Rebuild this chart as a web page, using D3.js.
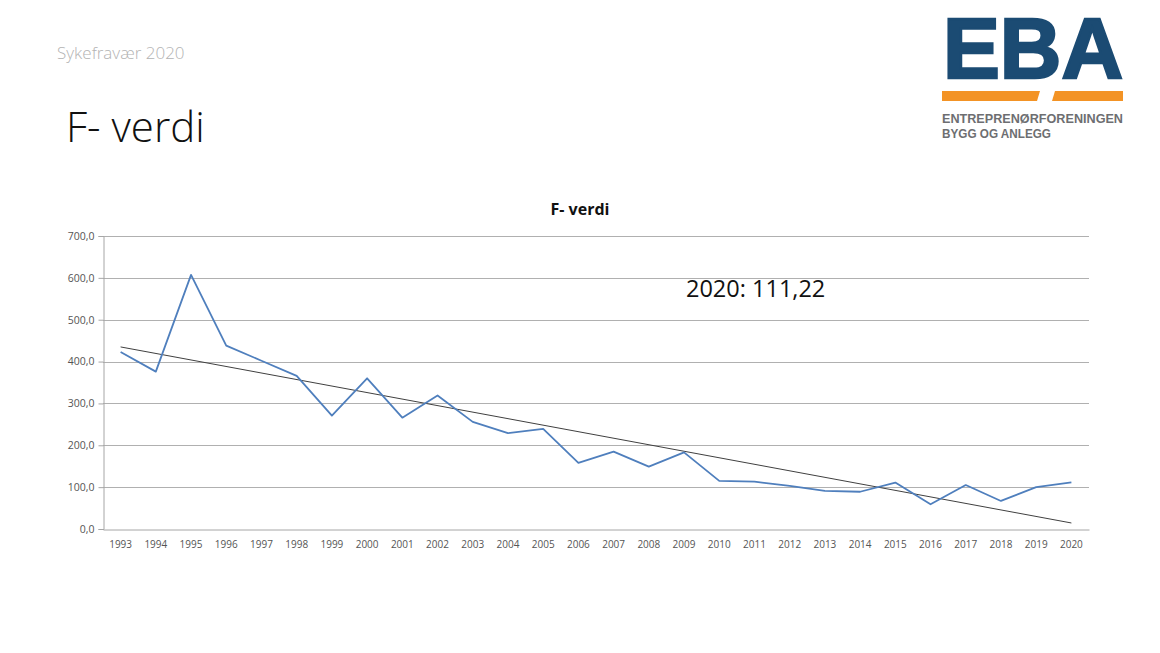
<!DOCTYPE html>
<html><head><meta charset="utf-8">
<script src="https://cdn.jsdelivr.net/npm/d3@7"></script>
<style>body{margin:0;background:#fff}svg{display:block}</style>
</head><body>
<svg id="c" width="1160" height="653"></svg>
<script>
const years = ["1993","1994","1995","1996","1997","1998","1999","2000","2001","2002","2003","2004","2005","2006","2007","2008","2009","2010","2011","2012","2013","2014","2015","2016","2017","2018","2019","2020"];
const fValues = [423,376,607,438,402,366,271,360,266,319,256,229,239,158,185,149,183,115,113,103,91,89,111,59,105,67,100,111.22];
const yTicks = [0,100,200,300,400,500,600,700];
const chartTitle = "F- verdi";
const annotation = "2020: 111,22";

(function(){
const svg = d3.select("#c");
const W=1160,H=653;
svg.append("rect").attr("width",W).attr("height",H).attr("fill","#fff");

// slide header
svg.append("text").attr("x",57).attr("y",59).attr("font-family","Open Sans, Noto Sans, sans-serif")
  .attr("font-size",17).attr("font-weight",300).attr("fill","#b3b3b3").text("Sykefravær 2020");
svg.append("text").attr("x",66).attr("y",142).attr("font-family","Open Sans, Noto Sans, sans-serif")
  .attr("font-size",42).attr("font-weight",300).attr("fill","#111").text("F- verdi");

// logo
const logo = svg.append("g");
logo.append("text").attr("x",943).attr("y",78).attr("font-family","Liberation Sans, Arial, sans-serif")
  .attr("font-weight",700).attr("font-size",85).attr("fill","#1b4b73")
  .attr("stroke","#1b4b73").attr("stroke-width",2.5).attr("stroke-linejoin","miter")
  .attr("textLength",180).attr("lengthAdjust","spacingAndGlyphs").text("EBA");
logo.append("path").attr("d","M942,91 L1040,91 L1037,101 L942,101 Z").attr("fill","#f39325");
logo.append("path").attr("d","M1055,91 L1123,91 L1123,101 L1052,101 Z").attr("fill","#f39325");
logo.append("text").attr("x",942).attr("y",123).attr("font-family","Liberation Sans, Arial, sans-serif")
  .attr("font-weight",700).attr("font-size",12.5).attr("fill","#6d6e71")
  .attr("textLength",181).attr("lengthAdjust","spacingAndGlyphs").text("ENTREPRENØRFORENINGEN");
logo.append("text").attr("x",942).attr("y",138).attr("font-family","Liberation Sans, Arial, sans-serif")
  .attr("font-weight",700).attr("font-size",12.5).attr("fill","#6d6e71")
  .attr("textLength",109).attr("lengthAdjust","spacingAndGlyphs").text("BYGG OG ANLEGG");

// chart
const pL=103,pR=1089,pT=236,pB=529;
const x = d3.scaleBand().domain(years).range([pL,pR]);
const y = d3.scaleLinear().domain([0,700]).range([pB,pT]);

svg.append("text").attr("x",580).attr("y",215).attr("text-anchor","middle")
  .attr("font-family","Open Sans, Noto Sans, sans-serif").attr("font-weight",700).attr("font-size",16)
  .attr("fill","#111").text(chartTitle);

// gridlines
svg.append("g").selectAll("line").data(yTicks.filter(d=>d>0)).join("line")
  .attr("x1",pL).attr("x2",pR).attr("y1",d=>Math.round(y(d))+0.5).attr("y2",d=>Math.round(y(d))+0.5)
  .attr("stroke","#b0b0b0").attr("stroke-width",1);

// y axis
const yAxis = d3.axisLeft(y).tickValues(yTicks).tickSize(5).tickPadding(4)
  .tickFormat(d=>d3.format(".1f")(d).replace(".",","));
const ya = svg.append("g").attr("transform",`translate(${pL+0.5},0)`).call(yAxis);
ya.selectAll("line").attr("stroke","#a6a6a6");
ya.select(".domain").attr("stroke","#a6a6a6");
ya.selectAll("text").attr("font-family","Open Sans, Noto Sans, sans-serif").attr("font-size",10.5).attr("fill","#555");

// x axis
const xAxis = d3.axisBottom(x).tickSize(0).tickPadding(11);
const xa = svg.append("g").attr("transform",`translate(0,${pB+0.5})`).call(xAxis);
xa.select(".domain").attr("stroke","#a6a6a6");
xa.selectAll("text").attr("font-family","Open Sans, Noto Sans, sans-serif").attr("font-size",10).attr("fill","#555");

// trend line (linear least squares)
const n=fValues.length, idx=d3.range(n);
const mx=d3.mean(idx), my=d3.mean(fValues);
const slope=d3.sum(idx,i=>(i-mx)*(fValues[i]-my))/d3.sum(idx,i=>(i-mx)*(i-mx));
const icpt=my-slope*mx;
const cx = i => x(years[i])+x.bandwidth()/2;
svg.append("line").attr("x1",cx(0)).attr("x2",cx(n-1))
  .attr("y1",y(icpt)).attr("y2",y(icpt+slope*(n-1)))
  .attr("stroke","#404040").attr("stroke-width",1);

// data line
const line = d3.line().x((d,i)=>cx(i)).y(d=>y(d));
svg.append("path").datum(fValues).attr("d",line).attr("fill","none")
  .attr("stroke","#4f7fbd").attr("stroke-width",1.8).attr("stroke-linejoin","round");

// annotation
svg.append("text").attr("x",686).attr("y",297).attr("font-family","Open Sans, Noto Sans, sans-serif")
  .attr("font-size",23.5).attr("fill","#111").text(annotation);
})();
</script>
</body></html>
